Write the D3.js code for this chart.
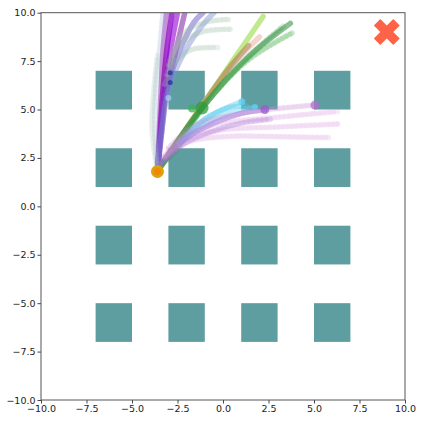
<!DOCTYPE html>
<html><head><meta charset="utf-8">
<script src="https://cdn.jsdelivr.net/npm/d3@7"></script>
<style>
html,body{margin:0;padding:0;background:#fff;}
svg{display:block;font-family:"DejaVu Sans",sans-serif;}
</style></head>
<body>
<svg id="chart" width="423" height="423"></svg>
<script>
// ---- data ----
const xTicks = [-10, -7.5, -5, -2.5, 0, 2.5, 5, 7.5, 10];
const yTicks = [-10, -7.5, -5, -2.5, 0, 2.5, 5, 7.5, 10];
const obstacleX = [-6, -2, 2, 6];
const obstacleY = [6, 2, -2, -6];
const obstacleSize = 2;
const startPoint = [-3.6, 1.8];
const goalPoint = [9, 9];

const trajNames   = ["purple1","purple2","purple3","purple4","blue1","blue2","faint1","faint2",
                     "sage1","sage2","sage3",
                     "lime","salmon","brown","green1","green2","green3","green4",
                     "cyan1","cyan2","cyan3",
                     "mpurple1","mpurple2","plum1","plum2","plum3","plum4"];
const trajColors  = ["#8a00c4","#9400d3","#7b1fa2","#8e24aa","#6a5acd","#7b8fd8","#9fb4e0","#a6c8b0",
                     "#9cbfa4","#9cbfa4","#9cbfa4",
                     "#a8e060","#e8a090","#9a7a3a","#2e8b3a","#4caf50","#3a9a48","#2e9b3e",
                     "#60d0f0","#70d8f4","#50c8ec",
                     "#9070d8","#a070d0","#d890dc","#d890dc","#d890dc","#cc88d8"];
const trajAlpha   = [0.75,0.6,0.55,0.5,0.5,0.45,0.25,0.25,
                     0.3,0.3,0.3,
                     0.7,0.45,0.45,0.55,0.4,0.3,0.35,
                     0.45,0.4,0.4,
                     0.5,0.35,0.25,0.25,0.25,0.3];
const trajBeaded  = [false,false,false,false,false,false,true,true,
                     true,true,true,
                     false,false,false,false,true,true,false,
                     false,true,true,
                     false,true,true,true,true,true];
const trajPoints = [
  [[-3.6,1.8],[-3.45,4],[-3.3,6],[-3.1,8],[-2.8,10]],
  [[-3.6,1.8],[-3.4,4],[-3.2,6],[-2.9,8],[-2.5,10]],
  [[-3.6,1.8],[-3.35,4],[-3.1,6],[-2.6,8],[-2.1,10]],
  [[-3.6,1.8],[-3.5,4],[-3.4,6],[-3.3,8],[-3.1,10]],
  [[-3.6,1.8],[-3.4,4],[-3.1,6],[-2.4,8],[-1.6,9.5],[-1.1,10]],
  [[-3.6,1.8],[-3.35,4],[-3.0,6],[-2.1,8],[-1.0,9.5],[-0.5,10]],
  [[-3.6,1.8],[-3.75,4],[-3.7,6],[-3.5,8],[-3.3,10]],
  [[-3.6,1.8],[-3.9,4],[-3.8,6],[-3.6,7.8]],
  [[-3.2,6.3],[-2.6,7.5],[-1.7,8.1],[-0.3,8.2]],
  [[-3.1,6.8],[-2.4,8.3],[-1.2,9.0],[0.4,9.15]],
  [[-3.0,7.3],[-2.2,8.9],[-1.0,9.5],[0.3,9.65]],
  [[-3.6,1.8],[-1.2,5.15],[0.6,7.6],[2.2,9.8]],
  [[-3.6,1.8],[-1.3,5.0],[0.5,7.3],[2.0,8.75]],
  [[-3.3,2.3],[-1.2,5.1],[0.3,7.1],[1.4,8.3]],
  [[-3.6,1.8],[-1.15,5.08],[1.5,7.8],[3.7,9.45]],
  [[-3.6,1.8],[-1.3,4.9],[1.3,7.5],[3.8,8.95]],
  [[-3.6,1.8],[-1.2,5.0],[1.0,7.4],[3.3,9.3]],
  [[-3.7,1.9],[-2.6,2.9],[-1.6,4.4],[-1.15,5.08]],
  [[-2.4,3.3],[-1.3,4.3],[0.0,5.0],[1.0,5.4]],
  [[-2.4,3.2],[-1.0,4.2],[0.5,4.9],[1.8,5.1]],
  [[-2.2,3.4],[-1.0,4.5],[0.3,5.1],[1.3,5.2]],
  [[-3.4,2.2],[-2.2,3.4],[-0.5,4.3],[1.0,4.8],[2.3,5.0]],
  [[-3.4,2.2],[-2.2,3.2],[-0.5,3.9],[1.0,4.3],[2.6,4.5]],
  [[-3.2,2.6],[-2.0,3.7],[0.0,4.3],[3.0,4.6],[6.3,4.9]],
  [[-3.2,2.6],[-2.0,3.5],[0.0,3.95],[3.0,4.1],[6.3,4.25]],
  [[-3.2,2.5],[-2.0,3.3],[0.0,3.6],[3.0,3.6],[5.8,3.55]],
  [[-3.0,3.0],[-1.5,4.2],[1.0,4.8],[3.0,5.05],[5.05,5.23]]
];
const dotPoints = [[-1.15,5.08],[-1.7,5.05],[2.3,5.0],[5.05,5.23],[1.04,5.4],[1.75,5.13],[-2.9,6.4],[-2.9,6.9],[-3.0,5.6]];
const dotColors = ["#2e9b3a","#3cb050","#9a5ad0","#b070c8","#60d0f0","#60d0f0","#2030a0","#2030a0","#a8c8f0"];
const dotRadius = [6.5,4,4.5,4.5,3.5,3,2.5,2.5,3];

// ---- layout ----
const W = 423, H = 423;
const m = {left:41, right:18, top:12.7, bottom:23};
const svg = d3.select("#chart");
const x = d3.scaleLinear().domain([-10,10]).range([m.left, W-m.right]);
const y = d3.scaleLinear().domain([-10,10]).range([H-m.bottom, m.top]);

svg.append("clipPath").attr("id","plotclip").append("rect")
  .attr("x",m.left).attr("y",m.top).attr("width",W-m.left-m.right).attr("height",H-m.top-m.bottom);
const plot = svg.append("g").attr("clip-path","url(#plotclip)");

const obs = [];
obstacleY.forEach(cy => obstacleX.forEach(cx => obs.push([cx,cy])));
plot.selectAll("rect.obs").data(obs).join("rect").attr("class","obs")
  .attr("x", d => x(d[0]-obstacleSize/2))
  .attr("y", d => y(d[1]+obstacleSize/2))
  .attr("width", d => x(d[0]+obstacleSize/2)-x(d[0]-obstacleSize/2))
  .attr("height", d => y(d[1]-obstacleSize/2)-y(d[1]+obstacleSize/2))
  .attr("fill","#5f9ea0");

const line = d3.line().x(d=>x(d[0])).y(d=>y(d[1])).curve(d3.curveCatmullRom.alpha(0.5));
trajPoints.forEach((pts,i) => {
  plot.append("path").datum(pts)
    .attr("d", line).attr("fill","none")
    .attr("stroke", trajColors[i])
    .attr("stroke-opacity", trajBeaded[i] ? trajAlpha[i]*0.7 : trajAlpha[i])
    .attr("stroke-width", 5.5)
    .attr("stroke-linecap","round").attr("stroke-linejoin","round");
  if (trajBeaded[i]) {
    plot.append("path").datum(pts)
      .attr("d", line).attr("fill","none")
      .attr("stroke", trajColors[i])
      .attr("stroke-opacity", trajAlpha[i]*0.6)
      .attr("stroke-width", 5)
      .attr("stroke-dasharray","0 4.5")
      .attr("stroke-linecap","round");
  }
});

plot.selectAll("circle.dot").data(dotPoints).join("circle").attr("class","dot")
  .attr("cx",d=>x(d[0])).attr("cy",d=>y(d[1]))
  .attr("r",(d,i)=>dotRadius[i]).attr("fill",(d,i)=>dotColors[i]).attr("fill-opacity",0.75);

plot.append("circle").attr("cx",x(startPoint[0])).attr("cy",y(startPoint[1])).attr("r",6.5).attr("fill","#dca012");
plot.append("circle").attr("cx",x(startPoint[0])).attr("cy",y(startPoint[1])).attr("r",3.5).attr("fill","#ee8a00");

plot.append("path")
  .attr("d", d3.symbol().type(d3.symbolCross).size(420)())
  .attr("transform",`translate(${x(goalPoint[0])},${y(goalPoint[1])}) rotate(45)`)
  .attr("fill","#ff6347");

const xAxis = d3.axisBottom(x).tickValues(xTicks).tickFormat(d3.format(".1f")).tickSize(3.5).tickPadding(2);
const yAxis = d3.axisLeft(y).tickValues(yTicks).tickFormat(d3.format(".1f")).tickSize(3.5).tickPadding(2);
const gx = svg.append("g").attr("transform",`translate(0,${H-m.bottom})`).call(xAxis);
const gy = svg.append("g").attr("transform",`translate(${m.left},0)`).call(yAxis);
[gx,gy].forEach(g=>{
  g.select(".domain").remove();
  g.selectAll(".tick line").attr("stroke","#444");
  g.selectAll(".tick text").attr("fill","#222").style("font-size","9.5px").style("font-family","DejaVu Sans");
});
svg.append("rect").attr("x",m.left).attr("y",m.top).attr("width",W-m.left-m.right).attr("height",H-m.top-m.bottom)
  .attr("fill","none").attr("stroke","#555").attr("stroke-width",1);
</script>
</body></html>
